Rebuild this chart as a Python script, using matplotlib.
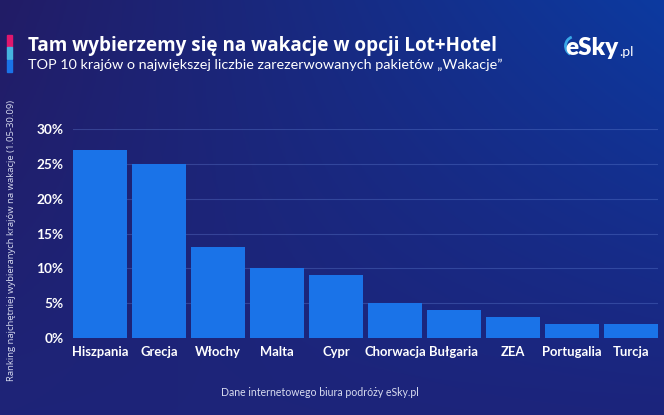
import numpy as np
import matplotlib.pyplot as plt
from matplotlib.patches import Rectangle, Arc

countries = ["Hiszpania", "Grecja", "Włochy", "Malta", "Cypr",
             "Chorwacja", "Bułgaria", "ZEA", "Portugalia", "Turcja"]
shares = [27, 25, 13, 10, 9, 5, 4, 3, 2, 2]
yticks = [0, 5, 10, 15, 20, 25, 30]

title = "Tam wybierzemy się na wakacje w opcji Lot+Hotel"
subtitle = "TOP 10 krajów o największej liczbie zarezerwowanych pakietów \u201eWakacje\u201d"
ylabel = "Ranking najchętniej wybieranych krajów na wakacje (1.05-30.09)"
source = "Dane internetowego biura podróży eSky.pl"

plt.rcParams['font.family'] = ['Open Sans', 'DejaVu Sans']
lato = ["Lato", "DejaVu Sans"]

W, H = 664, 415
fig = plt.figure(figsize=(W / 100, H / 100), dpi=100)

# background gradient
bg = fig.add_axes([0, 0, 1, 1])
bg.set_axis_off()
xx, yy = np.meshgrid(np.linspace(0, 1, 200), np.linspace(0, 1, 200))
c_tl = np.array([0x22, 0x1c, 0x66]) / 255
c_tr = np.array([0x0c, 0x3a, 0xa0]) / 255
c_bl = np.array([0x1e, 0x24, 0x78]) / 255
c_br = np.array([0x1c, 0x24, 0x7c]) / 255
img = ((1 - xx)[..., None] * (1 - yy)[..., None] * c_tl
       + xx[..., None] * (1 - yy)[..., None] * c_tr
       + (1 - xx)[..., None] * yy[..., None] * c_bl
       + xx[..., None] * yy[..., None] * c_br)
bg.imshow(img, extent=[0, W, H, 0], aspect='auto')
bg.set_xlim(0, W)
bg.set_ylim(H, 0)

# accent stripes
for i, col in enumerate(["#e0176d", "#45b4e0", "#1a73e8"]):
    bg.add_patch(Rectangle((7, 35 + 12.3 * i), 5, 12, color=col))

bg.text(28, 46, title, color="white", fontsize=13.6,
        fontweight="bold", va="center", ha="left")
bg.text(28, 65, subtitle, color="white", fontsize=10.4,
        va="center", ha="left", family=lato)

# logo
esky = bg.text(565, 48, "eSky", color="white", fontsize=17.5,
               fontweight="heavy", va="center", ha="left", family=lato)
bg.annotate(".pl", xy=(1, 0.05), xycoords=esky, xytext=(1, 0),
            textcoords="offset points", color="white", fontsize=10,
            va="bottom", ha="left", family=lato)
bg.add_patch(Arc((575, 46), 19, 19, theta1=120, theta2=250,
                 color="#3aa8e8", lw=2))

ax = fig.add_axes([73 / W, 1 - 338 / H, 585 / W, 209 / H])
ax.set_facecolor("none")
x = np.arange(len(countries))
ax.bar(x, shares, width=0.915, color="#1a73e8", zorder=3)
ax.set_xlim(-0.46, len(countries) - 0.54)
ax.set_ylim(0, 30)
ax.set_yticks(yticks)
ax.set_yticklabels([f"{v}%" for v in yticks])
ax.set_xticks(x)
ax.set_xticklabels(countries)
ax.tick_params(length=0, colors="white", labelsize=9.4)
ax.tick_params(axis="y", pad=7, labelsize=9.8)
ax.tick_params(axis="x", pad=6)
for lab in ax.get_xticklabels() + ax.get_yticklabels():
    lab.set_fontweight("bold")
    lab.set_family(lato)
ax.grid(axis="y", color="#6f8ee0", alpha=0.3, linewidth=0.8, zorder=0)
for s in ax.spines.values():
    s.set_visible(False)

bg.text(12, 240, ylabel, color="#d8dcf0", fontsize=6.8,
        rotation=90, va="center", ha="center")
bg.text(320, 392, source, color="#d8dcf0", fontsize=7.6,
        va="center", ha="center", family=lato)

fig.savefig("out.png", dpi=100)
